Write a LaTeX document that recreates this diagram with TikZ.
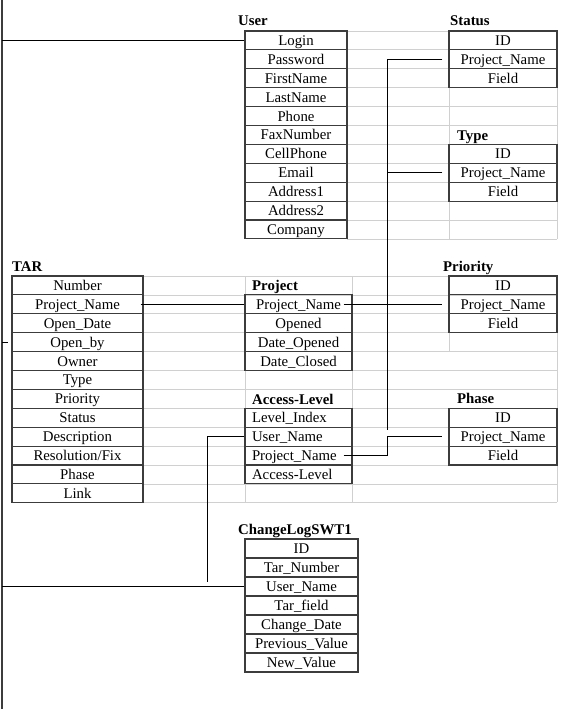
\documentclass[tikz,border=0pt]{standalone}
\usepackage{fontspec}
\setmainfont{Liberation Serif}
\usepackage{xcolor}
\definecolor{tableline}{RGB}{60, 60, 60}
\definecolor{gridgrey}{RGB}{208, 208, 208}

\begin{document}
\begin{tikzpicture}[
    x=1pt, y=-1pt,
    font=\fontsize{14.8}{16}\selectfont,
    cell/.style={draw=tableline, line width=1.1pt, minimum width=#1,
        minimum height=18.9pt, inner sep=0pt, text height=13pt, text depth=3pt},
    cell/.default=108pt,
    lcell/.style={cell=107pt, text width=93pt, align=left},
    title/.style={anchor=base west, inner sep=0pt,
        font=\fontsize{14.8}{16}\selectfont\bfseries},
    link/.style={black, line width=0.9pt},
    frame line/.style={tableline, line width=1.8pt},
    grid line/.style={gridgrey, line width=0.8pt}
]
    \useasboundingbox (0,0) rectangle (576,709);

    % Background grid of the page table
    \foreach \k in {0,...,11}
        \draw[grid line] (347, 31+18.9*\k) -- (557, 31+18.9*\k);
    \draw[grid line] (449, 31) -- (449, 238.9) (557, 31) -- (557, 238.9);
    \foreach \k in {0,...,12}
        \draw[grid line] (143, 276+18.9*\k) -- (557, 276+18.9*\k);
    \draw[grid line] (245, 276) -- (245, 502) (352, 276) -- (352, 502)
        (449, 276) -- (449, 352) (557, 276) -- (557, 502);

    % Coordinates
    \coordinate (frame top)    at (2, 0);
    \coordinate (frame bottom) at (2, 709);
    \coordinate (bus end)      at (387, 430);
    \coordinate (drop end)     at (207, 582);

    % User
    \node[title] (user) at (238, 26) {User};
    \node[cell=102pt] (user1)  at (296, 40.45)  {Login};
    \node[cell=102pt] (user2)  at (296, 59.35)  {Password};
    \node[cell=102pt] (user3)  at (296, 78.25)  {FirstName};
    \node[cell=102pt] (user4)  at (296, 97.15)  {LastName};
    \node[cell=102pt] (user5)  at (296, 116.05) {Phone};
    \node[cell=102pt] (user6)  at (296, 134.95) {FaxNumber};
    \node[cell=102pt] (user7)  at (296, 153.85) {CellPhone};
    \node[cell=102pt] (user8)  at (296, 172.75) {Email};
    \node[cell=102pt] (user9)  at (296, 191.65) {Address1};
    \node[cell=102pt] (user10) at (296, 210.55) {Address2};
    \node[cell=102pt] (user11) at (296, 229.45) {Company};

    % Status
    \node[title] (status) at (450, 26) {Status};
    \node[cell] (status1) at (503, 40.45) {ID};
    \node[cell] (status2) at (503, 59.35) {Project\_Name};
    \node[cell] (status3) at (503, 78.25) {Field};

    % Type
    \node[title] (type) at (457, 140) {Type};
    \node[cell] (type1) at (503, 153.85) {ID};
    \node[cell] (type2) at (503, 172.75) {Project\_Name};
    \node[cell] (type3) at (503, 191.65) {Field};

    % TAR
    \node[title] (tar) at (12, 271) {TAR};
    \node[cell=131pt] (tar1)  at (77.5, 285.45) {Number};
    \node[cell=131pt] (tar2)  at (77.5, 304.35) {Project\_Name};
    \node[cell=131pt] (tar3)  at (77.5, 323.25) {Open\_Date};
    \node[cell=131pt] (tar4)  at (77.5, 342.15) {Open\_by};
    \node[cell=131pt] (tar5)  at (77.5, 361.05) {Owner};
    \node[cell=131pt] (tar6)  at (77.5, 379.95) {Type};
    \node[cell=131pt] (tar7)  at (77.5, 398.85) {Priority};
    \node[cell=131pt] (tar8)  at (77.5, 417.75) {Status};
    \node[cell=131pt] (tar9)  at (77.5, 436.65) {Description};
    \node[cell=131pt] (tar10) at (77.5, 455.55) {Resolution/Fix};
    \node[cell=131pt] (tar11) at (77.5, 474.45) {Phase};
    \node[cell=131pt] (tar12) at (77.5, 493.35) {Link};

    % Project
    \node[title] (project) at (252, 290) {Project};
    \node[cell=107pt] (proj1) at (298.5, 304.35) {Project\_Name};
    \node[cell=107pt] (proj2) at (298.5, 323.25) {Opened};
    \node[cell=107pt] (proj3) at (298.5, 342.15) {Date\_Opened};
    \node[cell=107pt] (proj4) at (298.5, 361.05) {Date\_Closed};

    % Access-Level
    \node[title] (access) at (252, 404) {Access-Level};
    \node[lcell] (acc1) at (298.5, 417.75) {Level\_Index};
    \node[lcell] (acc2) at (298.5, 436.65) {User\_Name};
    \node[lcell] (acc3) at (298.5, 455.55) {Project\_Name};
    \node[lcell] (acc4) at (298.5, 474.45) {Access-Level};

    % Priority
    \node[title] (priority) at (443, 271) {Priority};
    \node[cell] (pri1) at (503, 285.45) {ID};
    \node[cell] (pri2) at (503, 304.35) {Project\_Name};
    \node[cell] (pri3) at (503, 323.25) {Field};

    % Phase
    \node[title] (phase) at (457, 403) {Phase};
    \node[cell] (phase1) at (503, 417.75) {ID};
    \node[cell] (phase2) at (503, 436.65) {Project\_Name};
    \node[cell] (phase3) at (503, 455.55) {Field};

    % ChangeLogSWT1
    \node[title] (changelog) at (238, 534) {ChangeLogSWT1};
    \node[cell=113pt, minimum height=19pt] (log1) at (301.5, 548.5) {ID};
    \node[cell=113pt, minimum height=19pt] (log2) at (301.5, 567.5) {Tar\_Number};
    \node[cell=113pt, minimum height=19pt] (log3) at (301.5, 586.5) {User\_Name};
    \node[cell=113pt, minimum height=19pt] (log4) at (301.5, 605.5) {Tar\_field};
    \node[cell=113pt, minimum height=19pt] (log5) at (301.5, 624.5) {Change\_Date};
    \node[cell=113pt, minimum height=19pt] (log6) at (301.5, 643.5) {Previous\_Value};
    \node[cell=113pt, minimum height=19pt] (log7) at (301.5, 662.5) {New\_Value};

    % Links
    \draw[frame line] (frame top) -- (frame bottom);
    \draw[link] (frame top |- user1.west) -- (user1.west);
    \draw[link] (frame top |- log3.west) -- (log3.west);
    \draw[link] (frame top |- tar4.west) -- ++(6, 0);

    \draw[link] ([xshift=-3pt]tar2.east) -- (proj1.west);
    \draw[link] ([xshift=-9pt]proj1.east) -- ([xshift=-6pt]pri2.west);

    \draw[link] ([xshift=-6pt]status2.west) -| (bus end);
    \draw[link] ([xshift=-6pt]type2.west) -- (type2.west -| bus end);

    \draw[link] (acc2.west) -| (drop end);
    \draw[link] ([xshift=-9pt]acc3.east) -| (bus end |- phase2.west)
        -- ([xshift=-6pt]phase2.west);

\end{tikzpicture}
\end{document}
